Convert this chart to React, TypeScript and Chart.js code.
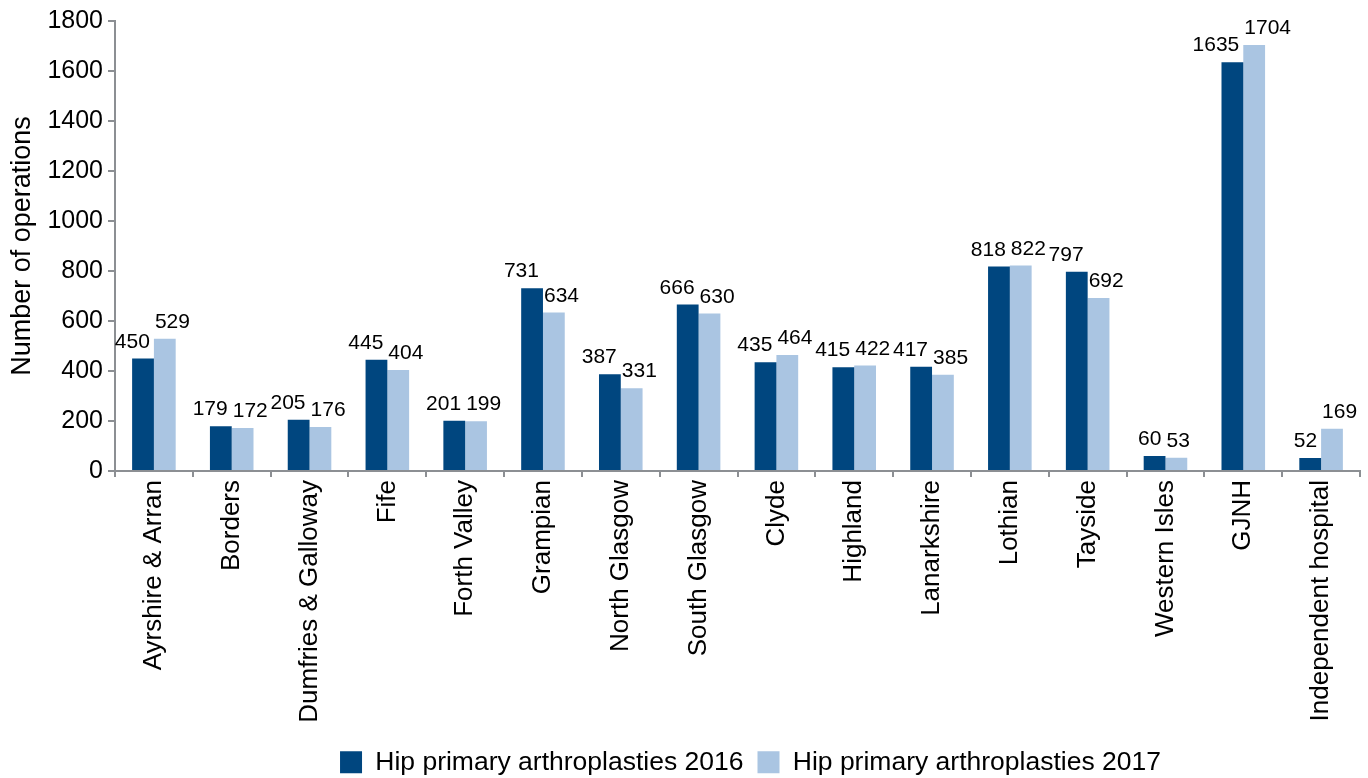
import React, { useEffect, useRef } from "react";
import { Chart, registerables } from "chart.js";

Chart.register(...registerables);

const categories = [
  "Ayrshire & Arran",
  "Borders",
  "Dumfries & Galloway",
  "Fife",
  "Forth Valley",
  "Grampian",
  "North Glasgow",
  "South Glasgow",
  "Clyde",
  "Highland",
  "Lanarkshire",
  "Lothian",
  "Tayside",
  "Western Isles",
  "GJNH",
  "Independent hospital",
];

const seriesNames = ["Hip primary arthroplasties 2016", "Hip primary arthroplasties 2017"];

const values2016 = [450, 179, 205, 445, 201, 731, 387, 666, 435, 415, 417, 818, 797, 60, 1635, 52];
const values2017 = [529, 172, 176, 404, 199, 634, 331, 630, 464, 422, 385, 822, 692, 53, 1704, 169];

const yMin = 0;
const yMax = 1800;
const yStep = 200;

const FONT = '"Liberation Sans", Arial, Helvetica, sans-serif';
const DARK = "#00467f";
const LIGHT = "#aac5e2";
const AXIS = "#8c8f93";

// Value labels above each bar: 2016 right-aligned to its bar, 2017 left-aligned.
const valueLabels = {
  id: "valueLabels",
  afterDatasetsDraw(chart: any) {
    const ctx = chart.ctx;
    ctx.save();
    ctx.font = `21px ${FONT}`;
    ctx.fillStyle = "#000";
    ctx.textBaseline = "alphabetic";
    chart.data.datasets.forEach((ds: any, di: number) => {
      const meta = chart.getDatasetMeta(di);
      meta.data.forEach((bar: any, i: number) => {
        const { x, y, width } = bar.getProps(["x", "y", "width"], true);
        const text = String(ds.data[i]);
        if (di === 0) {
          ctx.textAlign = "right";
          ctx.fillText(text, x + width / 2 - 4, y - 11);
        } else {
          ctx.textAlign = "left";
          ctx.fillText(text, x - width / 2 + 1, y - 11);
        }
      });
    });
    ctx.restore();
  },
};

// Shift the legend slightly down and right after layout.
const legendShift = {
  id: "legendShift",
  afterLayout(chart: any) {
    const lg = chart.legend;
    if (!lg) return;
    lg.top += 7.5;
    lg.bottom += 7.5;
    lg.left += 13;
    lg.right += 13;
  },
};

export default function App() {
  const canvasRef = useRef<HTMLCanvasElement | null>(null);

  useEffect(() => {
    if (!canvasRef.current) return;
    const chart = new Chart(canvasRef.current, {
      type: "bar",
      data: {
        labels: categories,
        datasets: [
          {
            label: seriesNames[0],
            data: values2016,
            backgroundColor: DARK,
            borderWidth: 0,
            categoryPercentage: 0.56,
            barPercentage: 1,
          },
          {
            label: seriesNames[1],
            data: values2017,
            backgroundColor: LIGHT,
            borderWidth: 0,
            categoryPercentage: 0.56,
            barPercentage: 1,
          },
        ],
      },
      options: {
        responsive: true,
        maintainAspectRatio: false,
        animation: false,
        layout: { padding: { top: 21, right: 8, bottom: 0, left: 0 } },
        plugins: {
          legend: {
            position: "bottom",
            fullSize: false,
            labels: {
              boxWidth: 22,
              boxHeight: 22,
              padding: 14,
              color: "#000",
              font: { family: FONT, size: 26.5 },
            },
          },
          tooltip: { enabled: false },
        },
        scales: {
          x: {
            grid: {
              display: true,
              drawOnChartArea: false,
              drawTicks: true,
              tickLength: 6,
              color: AXIS,
              lineWidth: 2,
              offset: true,
            },
            border: { display: true, color: AXIS, width: 2 },
            ticks: {
              color: "#000",
              font: { family: FONT, size: 26 },
              minRotation: 90,
              maxRotation: 90,
              autoSkip: false,
              padding: 3,
            },
            afterFit(scale: any) {
              scale.height = 256.5;
            },
          },
          y: {
            min: yMin,
            max: yMax,
            grid: {
              display: true,
              drawOnChartArea: false,
              drawTicks: true,
              tickLength: 7,
              color: AXIS,
              lineWidth: 2,
            },
            border: { display: true, color: AXIS, width: 2 },
            ticks: {
              stepSize: yStep,
              color: "#000",
              font: { family: FONT, size: 25 },
              padding: 5,
              callback: (v: any) => String(v),
            },
            title: {
              display: true,
              text: "Number of operations",
              color: "#000",
              font: { family: FONT, size: 27 },
              padding: { top: 6, bottom: 0 },
            },
            afterFit(scale: any) {
              scale.width = 115;
            },
          },
        },
      },
      plugins: [valueLabels, legendShift],
    });
    return () => chart.destroy();
  }, []);

  return (
    <div style={{ position: "fixed", left: 0, top: 0, width: 1368, height: 778, background: "#fff" }}>
      <canvas ref={canvasRef} />
    </div>
  );
}
